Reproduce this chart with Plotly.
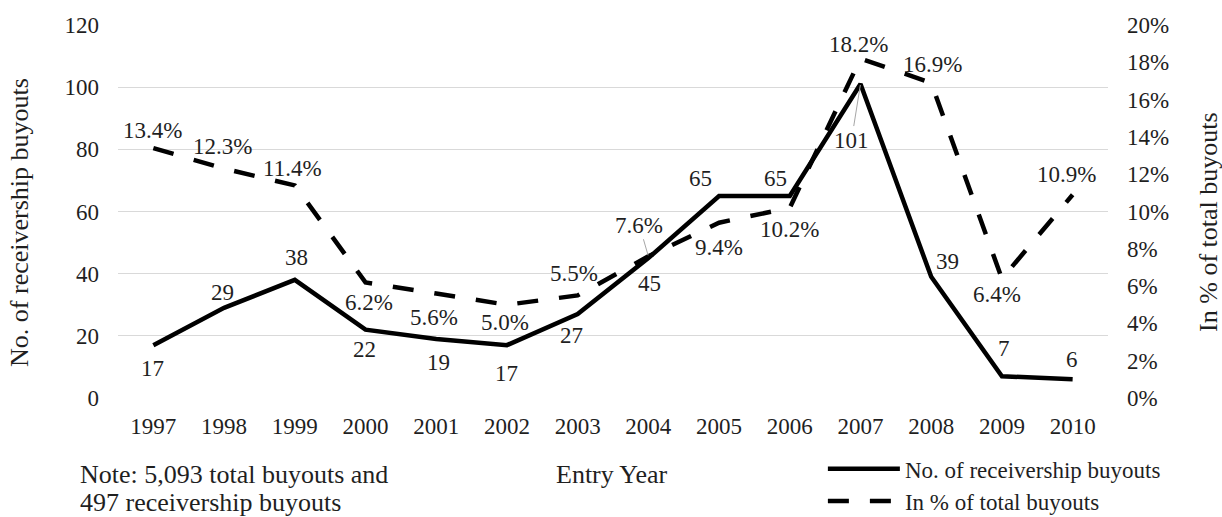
import plotly.graph_objects as go

# ---------------- data ----------------
years = [1997, 1998, 1999, 2000, 2001, 2002, 2003, 2004, 2005, 2006, 2007, 2008, 2009, 2010]
receivership_buyouts = [17, 29, 38, 22, 19, 17, 27, 45, 65, 65, 101, 39, 7, 6]
pct_of_total = [13.4, 12.3, 11.4, 6.2, 5.6, 5.0, 5.5, 7.6, 9.4, 10.2, 18.2, 16.9, 6.4, 10.9]
left_ticks = [0, 20, 40, 60, 80, 100, 120]
right_ticks = [0, 2, 4, 6, 8, 10, 12, 14, 16, 18, 20]

# label offsets in pixels (dx, dy screen-down); "arrow" -> label with leader line
count_offsets = [(-1, 23), (-2, -15), (2, -22), (-1, 20), (2, 24), (0, 28), (-6, 21),
                 (1, 25), (-19, -17), (-14, -17), ("arrow", -9, 56), (16, -15), (2, -28), (-1, -20)]
pct_offsets = [(-1, -18), (-2, -22), (-2, -17), (3, 20), (-2, 24), (-2, 18), (-4, -22),
               ("arrow", -9, -31), (0, 25), (0, 22), (-2, -14), (1, -18), (-5, 16), (-6, -20)]

FONT = "Liberation Serif, Times New Roman, serif"
FS = 23      # ticks, data labels, legend
FS_T = 26    # titles, note
TXT = "#1f1f1f"

fig = go.Figure()
fig.add_trace(go.Scatter(
    x=years, y=receivership_buyouts, mode="lines", name="No. of receivership buyouts",
    line=dict(color="black", width=4.5), legend="legend"))
fig.add_trace(go.Scatter(
    x=years, y=pct_of_total, mode="lines", name="In % of total buyouts", yaxis="y2",
    line=dict(color="black", width=4.5, dash="21px,21px"), legend="legend2"))

annotations = []


def add_labels(values, offsets, yref, fmt):
    for xv, v, off in zip(years, values, offsets):
        txt = fmt(v)
        if off[0] == "arrow":
            annotations.append(dict(
                x=xv, y=v, xref="x", yref=yref, text=txt, showarrow=True,
                arrowhead=0, arrowwidth=1, arrowcolor="#a6a6a6",
                ax=off[1], ay=off[2], standoff=1,
                font=dict(family=FONT, size=FS, color=TXT)))
        else:
            annotations.append(dict(
                x=xv, y=v, xref="x", yref=yref, text=txt, showarrow=False,
                xshift=off[0], yshift=-off[1],
                font=dict(family=FONT, size=FS, color=TXT)))


add_labels(receivership_buyouts, count_offsets, "y", lambda v: f"{v}")
add_labels(pct_of_total, pct_offsets, "y2", lambda v: f"{v:.1f}%")

# note (two lines, Excel-like tighter line spacing)
annotations.append(dict(
    x=-0.0404, y=-0.204, xref="paper", yref="paper", xanchor="left", yanchor="middle",
    showarrow=False, text="Note: 5,093 total buyouts and",
    font=dict(family=FONT, size=FS_T, color=TXT)))
annotations.append(dict(
    x=-0.0404, y=-0.281, xref="paper", yref="paper", xanchor="left", yanchor="middle",
    showarrow=False, text="497 receivership buyouts",
    font=dict(family=FONT, size=FS_T, color=TXT)))
# axis titles
annotations.append(dict(
    x=0.499, y=-0.206, xref="paper", yref="paper", xanchor="center", yanchor="middle",
    showarrow=False, text="Entry Year", font=dict(family=FONT, size=FS_T, color=TXT)))
annotations.append(dict(
    x=-0.099, y=0.472, xref="paper", yref="paper", xanchor="center", yanchor="middle",
    showarrow=False, textangle=-90, text="No. of receivership buyouts",
    font=dict(family=FONT, size=FS_T, color=TXT)))
annotations.append(dict(
    x=1.102, y=0.472, xref="paper", yref="paper", xanchor="center", yanchor="middle",
    showarrow=False, textangle=-90, text="In % of total buyouts",
    font=dict(family=FONT, size=FS_T, color=TXT)))

fig.update_layout(
    width=1222, height=517,
    margin=dict(l=118, r=114, t=25, b=119, autoexpand=False),
    paper_bgcolor="white", plot_bgcolor="white",
    font=dict(family=FONT, size=FS, color=TXT),
    showlegend=True,
    annotations=annotations,
    xaxis=dict(
        range=[1996.5, 2010.5], tickvals=years, ticktext=[str(y) for y in years],
        showgrid=False, zeroline=False, showline=False, ticks="", automargin=False,
        ticklabelstandoff=12,
        tickfont=dict(family=FONT, size=FS, color=TXT)),
    yaxis=dict(
        range=[0, 120], tickvals=left_ticks, showgrid=True, gridcolor="#d9d9d9", gridwidth=1.3,
        zeroline=False, showline=False, ticks="", ticklabelstandoff=18, automargin=False,
        tickfont=dict(family=FONT, size=FS, color=TXT)),
    yaxis2=dict(
        range=[0, 20], tickvals=right_ticks, ticktext=[f"{t}%" for t in right_ticks],
        overlaying="y", side="right", showgrid=False, zeroline=False, showline=False, ticks="",
        ticklabelstandoff=18, automargin=False,
        tickfont=dict(family=FONT, size=FS, color=TXT)),
    legend=dict(x=0.712, y=-0.190, xanchor="left", yanchor="middle", itemwidth=72,
                bgcolor="rgba(0,0,0,0)", font=dict(family=FONT, size=FS, color=TXT)),
    legend2=dict(x=0.712, y=-0.276, xanchor="left", yanchor="middle", itemwidth=72,
                 bgcolor="rgba(0,0,0,0)", font=dict(family=FONT, size=FS, color=TXT)),
)

fig.write_html("out.html")
